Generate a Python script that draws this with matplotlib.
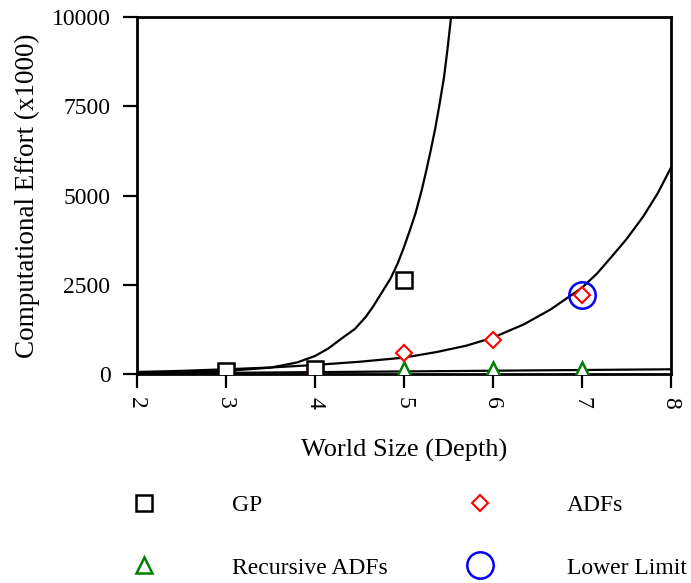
import numpy as np
import matplotlib
matplotlib.use("Agg")
import matplotlib.pyplot as plt

plt.rcParams['font.family'] = ['Liberation Serif', 'DejaVu Serif']

# Дані
gp_x = [3, 4, 5]
gp_y = [100, 150, 2650]
adf_x = [3, 4, 5, 6, 7]
adf_y = [20, 40, 600, 970, 2230]
rec_x = [3, 4, 5, 6, 7]
rec_y = [30, 40, 110, 110, 110]
lower_x = [7]
lower_y = [2230]

# Лінії апроксимації (точки, зчитані з кривих)
gp_fit_x = [2.0, 2.5, 3.0, 3.5, 3.8, 4.0, 4.15, 4.3, 4.45, 4.57, 4.65, 4.73, 4.85,
            4.93, 5.0, 5.07, 5.13, 5.2, 5.25, 5.3, 5.35, 5.4, 5.45, 5.49, 5.53]
gp_fit_y = [30, 50, 93, 186, 330, 510, 720, 1000, 1270, 1600, 1880, 2200, 2680,
            3100, 3550, 4050, 4500, 5150, 5680, 6250, 6850, 7550, 8300, 9100, 10000]
adf_fit_x = [2.0, 2.5, 3.0, 3.5, 4.0, 4.5, 5.0, 5.37, 5.7, 6.0, 6.35, 6.65, 7.0,
             7.17, 7.33, 7.5, 7.69, 7.85, 8.0]
adf_fit_y = [65, 95, 140, 190, 260, 350, 466, 624, 800, 1025, 1400, 1817, 2420,
             2820, 3280, 3780, 4420, 5060, 5780]
rec_fit_x = [2, 3, 4, 5, 6, 7, 8]
rec_fit_y = [20, 40, 60, 80, 100, 120, 140]

fig = plt.figure(figsize=(6.91, 5.83), dpi=100)
ax = fig.add_axes([0.198, 0.358, 0.773, 0.613])

ax.plot(gp_fit_x, gp_fit_y, color='black', lw=1.6, zorder=2)
ax.plot(adf_fit_x, adf_fit_y, color='black', lw=1.6, zorder=2)
ax.plot(rec_fit_x, rec_fit_y, color='black', lw=1.6, zorder=2)

h_rec, = ax.plot(rec_x, rec_y, '^', ms=11, mfc='white', mec='green', mew=1.8,
                 ls='none', zorder=3)
h_adf, = ax.plot(adf_x, adf_y, 'D', ms=8, mfc='white', mec='red', mew=1.5,
                 ls='none', zorder=4)
h_gp, = ax.plot(gp_x, gp_y, 's', ms=12, mfc='white', mec='black', mew=1.8,
                ls='none', zorder=5)
h_low, = ax.plot(lower_x, lower_y, 'o', ms=19, mfc='none', mec='blue', mew=1.8,
                 ls='none', zorder=6)

ax.set_xlim(2, 8)
ax.set_ylim(0, 10000)
ax.set_xticks([2, 3, 4, 5, 6, 7, 8])
ax.set_yticks([0, 2500, 5000, 7500, 10000])
ax.tick_params(direction='out', length=10, width=1.6, labelsize=17)
ax.tick_params(axis='y', pad=9)
ax.tick_params(axis='x', pad=6)
for lbl in ax.get_xticklabels():
    lbl.set_rotation(-90)
for s in ax.spines.values():
    s.set_linewidth(2)

ax.set_xlabel('World Size (Depth)', fontsize=19, labelpad=22)
ax.set_ylabel('Computational Effort (x1000)', fontsize=19.5, labelpad=8)

fig.legend([h_gp, h_rec, h_adf, h_low], ['GP', 'Recursive ADFs', 'ADFs', 'Lower Limit'],
           ncol=2, loc='upper left', bbox_to_anchor=(0.192, 0.152), frameon=False,
           fontsize=17, handlelength=1, handletextpad=3.2, columnspacing=3.4,
           labelspacing=1.75, borderpad=0, borderaxespad=0)

fig.savefig('out.png', dpi=100)
